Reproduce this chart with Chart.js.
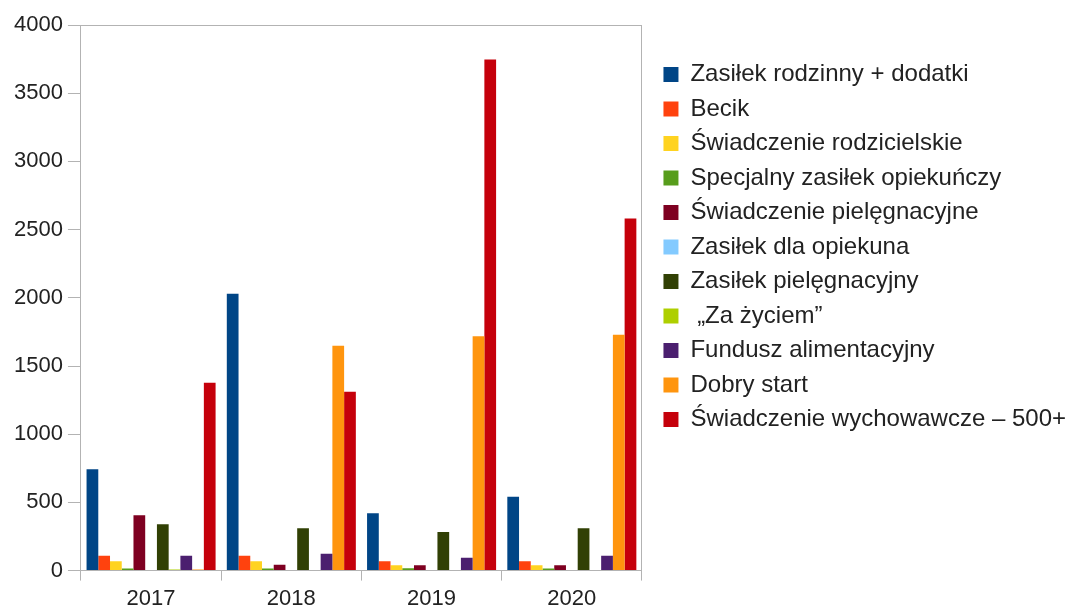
<!DOCTYPE html>
<html lang="pl">
<head>
<meta charset="utf-8">
<title>Świadczenia 2017–2020</title>
<script src="https://cdn.jsdelivr.net/npm/chart.js@4.4.1/dist/chart.umd.min.js"></script>
<style>
  html, body { margin: 0; padding: 0; background: #ffffff; }
  #wrap { width: 1067px; height: 612px; }
</style>
</head>
<body>
<div id="wrap"><canvas id="wykres" width="1067" height="612"></canvas></div>
<script>
const lata = ['2017', '2018', '2019', '2020'];

const zasilekRodzinny = [743, 2029, 421, 542];
const becik = [108, 108, 69, 69];
const swRodzicielskie = [69, 69, 40, 40];
const specjalnyZasilek = [15, 15, 18, 15];
const swPielegnacyjne = [406, 42, 40, 40];
const zasilekDlaOpiekuna = [0, 0, 0, 0];
const zasilekPielegnacyjny = [340, 311, 283, 311];
const zaZyciem = [8, 0, 0, 0];
const fundusz = [108, 123, 95, 108];
const dobryStart = [8, 1648, 1719, 1729];
const swWychowawcze = [1377, 1311, 3747, 2581];

const ticksY = [0, 500, 1000, 1500, 2000, 2500, 3000, 3500, 4000];

const serie = [
  ['Zasiłek rodzinny + dodatki', zasilekRodzinny, '#004586'],
  ['Becik', becik, '#ff420e'],
  ['Świadczenie rodzicielskie', swRodzicielskie, '#ffd320'],
  ['Specjalny zasiłek opiekuńczy', specjalnyZasilek, '#579d1c'],
  ['Świadczenie pielęgnacyjne', swPielegnacyjne, '#7e0021'],
  ['Zasiłek dla opiekuna', zasilekDlaOpiekuna, '#83caff'],
  ['Zasiłek pielęgnacyjny', zasilekPielegnacyjny, '#314004'],
  [' „Za życiem”', zaZyciem, '#aecf00'],
  ['Fundusz alimentacyjny', fundusz, '#4b1f6f'],
  ['Dobry start', dobryStart, '#ff950e'],
  ['Świadczenie wychowawcze – 500+', swWychowawcze, '#c5000b'],
];

const szary = '#b3b3b3';
const tekst = '#222222';
const czcionka = 'Liberation Sans, Arial, sans-serif';

const datasets = serie.map(([label, data, kolor]) => ({
  label,
  data,
  backgroundColor: kolor,
  borderWidth: 0,
  categoryPercentage: 0.92,
  barPercentage: 1,
}));

new Chart(document.getElementById('wykres'), {
  type: 'bar',
  data: { labels: lata, datasets },
  options: {
    responsive: false,
    animation: false,
    layout: { padding: { top: 25, left: 9, right: -9, bottom: -5 } },
    plugins: {
      tooltip: { enabled: false },
      legend: {
        position: 'right',
        align: 'start',
        maxWidth: 430,
        // pusty tytuł tylko odsuwa wpisy legendy od góry
        title: { display: true, text: '', padding: 0, font: { size: 22.5 } },
        labels: {
          boxWidth: 15,
          boxHeight: 15,
          padding: 10.5,
          color: tekst,
          font: { family: czcionka, size: 24 },
        },
      },
    },
    scales: {
      x: {
        grid: { drawOnChartArea: false, color: szary, tickLength: 10 },
        border: { color: szary },
        ticks: { color: tekst, padding: 5, font: { family: czcionka, size: 22 } },
      },
      x2: {
        position: 'top',
        labels: lata,
        grid: { drawOnChartArea: false, drawTicks: false },
        border: { color: szary },
        ticks: { display: false },
      },
      y: {
        min: 0,
        max: 4000,
        afterBuildTicks: (skala) => {
          skala.ticks = ticksY.map((v) => ({ value: v }));
        },
        grid: { drawOnChartArea: false, color: szary, tickLength: 13 },
        border: { color: szary },
        ticks: {
          color: tekst,
          padding: 5,
          font: { family: czcionka, size: 22 },
          callback: (v) => String(v),
        },
      },
      y2: {
        position: 'right',
        min: 0,
        max: 4000,
        grid: { drawOnChartArea: false, drawTicks: false },
        border: { color: szary },
        ticks: { display: false },
        afterFit: (skala) => {
          skala.width = 11;
        },
      },
    },
  },
});
</script>
</body>
</html>
